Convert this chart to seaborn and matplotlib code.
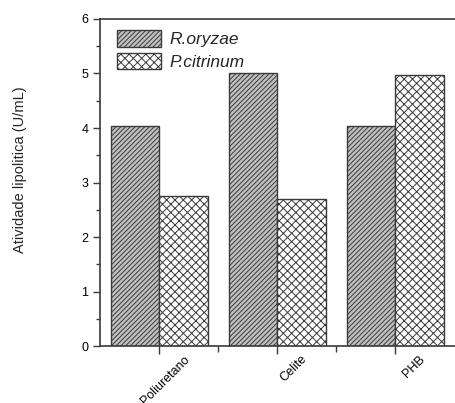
import numpy as np
import pandas as pd
import matplotlib
matplotlib.use("Agg")
import matplotlib.pyplot as plt
import matplotlib.transforms as mtransforms
from matplotlib.ticker import MultipleLocator, FixedLocator
from matplotlib.patches import Patch
import seaborn as sns

# data
SUPPORTS = ["Poliuretano", "Celite", "PHB"]
STRAINS = ["R.oryzae", "P.citrinum"]
R_ORYZAE = [4.04, 5.00, 4.03]
P_CITRINUM = [2.75, 2.69, 4.98]

df = pd.DataFrame({
    "suporte": SUPPORTS * 2,
    "cepa": [STRAINS[0]] * 3 + [STRAINS[1]] * 3,
    "atividade": R_ORYZAE + P_CITRINUM,
})

sns.set_style("ticks")
plt.rcParams["font.family"] = ["Liberation Sans", "DejaVu Sans"]
plt.rcParams["hatch.linewidth"] = 0.7

EDGE = "#3a3a3a"
FACES = {"R.oryzae": "#c0c0c0", "P.citrinum": "white"}
HATCHES = {"R.oryzae": "///////", "P.citrinum": "xxxx"}

fig = plt.figure(figsize=(4.55, 4.03), dpi=100)
ax = fig.add_axes([0.22, 0.141, 0.786, 0.812])

sns.barplot(data=df, x="suporte", y="atividade", hue="cepa", order=SUPPORTS,
            hue_order=STRAINS, width=0.82, ax=ax, legend=False,
            palette=FACES, saturation=1, edgecolor=EDGE, linewidth=1.0)

for cont, strain in zip(ax.containers, STRAINS):
    for bar in cont:
        bar.set_facecolor(FACES[strain])
        bar.set_hatch(HATCHES[strain])
        bar.set_edgecolor(EDGE)

ax.set_xlim(-0.5, 2.53)
ax.set_ylim(0, 6)
ax.yaxis.set_major_locator(MultipleLocator(1))
ax.yaxis.set_minor_locator(MultipleLocator(0.5))
ax.xaxis.set_minor_locator(FixedLocator([0.5, 1.5]))

for s in ["left", "bottom", "top"]:
    ax.spines[s].set_color(EDGE)
    ax.spines[s].set_linewidth(1.2)
ax.spines["right"].set_visible(False)

ax.tick_params(axis="both", which="major", direction="out", length=5,
               width=1.0, color=EDGE, labelsize=9, labelcolor="black")
ax.tick_params(axis="both", which="minor", direction="out", length=3,
               width=1.0, color=EDGE)
ax.tick_params(axis="x", which="major", length=6)
ax.tick_params(axis="x", which="minor", length=4)

ax.set_xlabel("")
ax.set_ylabel("Atividade lipolitica (U/mL)", fontsize=10.5)
ax.yaxis.set_label_coords(-0.204, 0.538)

offset = mtransforms.ScaledTranslation(24 / 100, 6 / 100, fig.dpi_scale_trans)
ax.set_xticks(range(len(SUPPORTS)))
ax.set_xticklabels(SUPPORTS, rotation=45, ha="right", va="top",
                   rotation_mode="anchor", fontsize=9)
for lab in ax.get_xticklabels():
    lab.set_transform(lab.get_transform() + offset)

handles = [Patch(facecolor=FACES[s], edgecolor=EDGE, hatch=HATCHES[s], label=s)
           for s in STRAINS]
leg = ax.legend(handles=handles, loc="upper left", bbox_to_anchor=(0.016, 1.0),
                frameon=False, prop={"style": "italic", "size": 12.5},
                handlelength=2.5, handleheight=1.1, handletextpad=0.5,
                labelspacing=0.3, borderaxespad=0.25)

fig.savefig("out.png", dpi=100)
